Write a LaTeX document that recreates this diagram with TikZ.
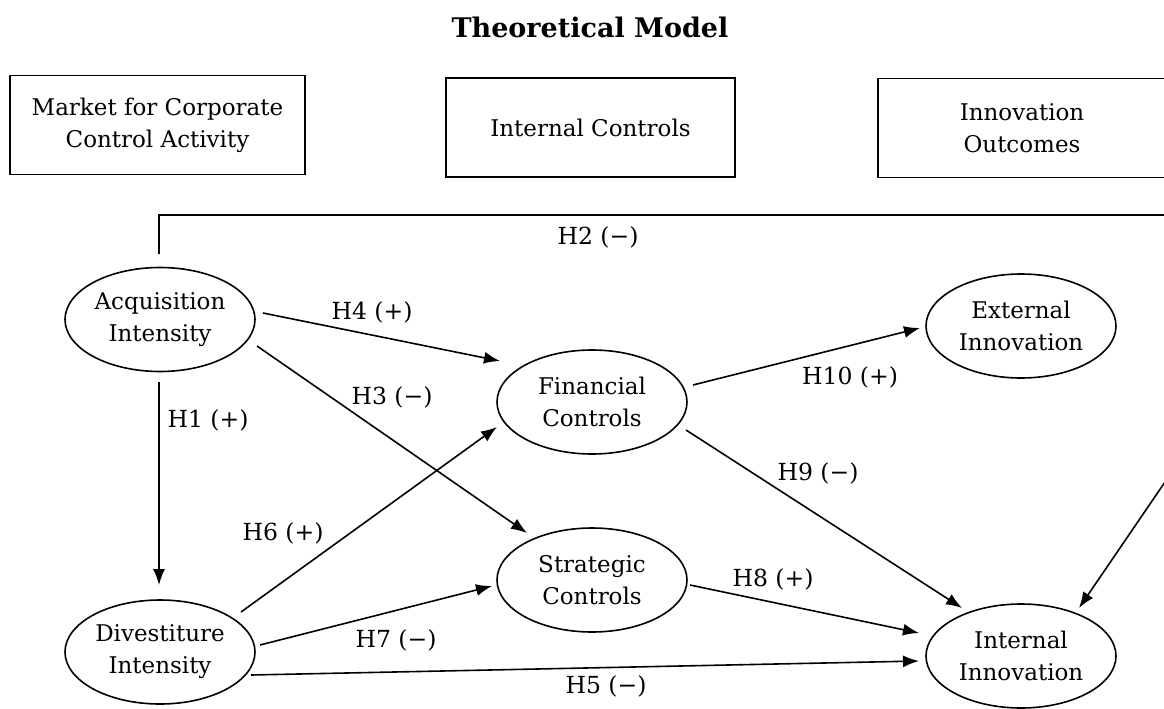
\documentclass[tikz,border=0pt]{standalone}
\usepackage{fontspec}
\setmainfont{DejaVu Serif}
\usetikzlibrary{arrows.meta,shapes.geometric}
\begin{document}
\begin{tikzpicture}[x=1pt,y=-1pt,
  hbox/.style={draw, line width=1.7pt, minimum height=99pt, align=center,
    inner sep=0pt, font=\fontsize{23}{32}\selectfont},
  var/.style={draw, ellipse, line width=1.6pt, minimum width=190pt,
    minimum height=104pt, inner sep=0pt, align=center,
    font=\fontsize{23}{32}\selectfont},
  link/.style={line width=1.6pt, -{Latex[length=16pt,width=12pt]}},
  lab/.style={font=\fontsize{23.5}{28}\selectfont, inner sep=0pt}]
\useasboundingbox (0,0) rectangle (1164,709);

% heading and column boxes
\node[font=\bfseries\fontsize{27}{32}\selectfont] (title) at (590,27) {Theoretical Model};
\node[hbox, minimum width=295pt] (mkt) at (157.5,125) {Market for Corporate\\Control Activity};
\node[hbox, minimum width=289pt] (ic) at (590.5,127.5) {Internal Controls};
\node[hbox, minimum width=288pt] (io) at (1022,128) {Innovation\\Outcomes};

% constructs
\node[var] (acq) at (160,319.5) {Acquisition\\Intensity};
\node[var] (fin) at (592,402) {Financial\\Controls};
\node[var] (ext) at (1021,326) {External\\Innovation};
\node[var] (str) at (592,580) {Strategic\\Controls};
\node[var] (div) at (160,652) {Divestiture\\Intensity};
\node[var] (inn) at (1021,656) {Internal\\Innovation};

% bends of the H2 path along the top and right edge
\coordinate (h2a) at (1180,215);
\coordinate (h2b) at (1180,460);

% hypothesised paths
\draw[link] ([shift={(-1,-65.5)}]acq.center) |- (h2a) -- (h2b) -- ([shift={(58,-48)}]inn.center);
\draw[link] ([shift={(103,-6.5)}]acq.center) -- ([shift={(-92,-41)}]fin.center);
\draw[link] ([shift={(97,26.5)}]acq.center) -- ([shift={(-65,-47)}]str.center);
\draw[link] ([shift={(-1,62.5)}]acq.center) -- ([shift={(-1,-67)}]div.center);
\draw[link] ([shift={(81,-40)}]div.center) -- ([shift={(-95,25)}]fin.center);
\draw[link] ([shift={(100,-7)}]div.center) -- ([shift={(-100,6)}]str.center);
\draw[link] ([shift={(91,23)}]div.center) -- ([shift={(-102,5)}]inn.center);
\draw[link] ([shift={(101,-17)}]fin.center) -- ([shift={(-101,2)}]ext.center);
\draw[link] ([shift={(94,28)}]fin.center) -- ([shift={(-59,-48)}]inn.center);
\draw[link] ([shift={(98,5)}]str.center) -- ([shift={(-102,-23)}]inn.center);

% hypothesis labels
\node[lab] (l2) at (598,237) {H2 (−)};
\node[lab] (l4) at (372,312) {H4 (+)};
\node[lab] (l3) at (392,397) {H3 (−)};
\node[lab] (l1) at (208,420) {H1 (+)};
\node[lab] (l10) at (850,377) {H10 (+)};
\node[lab] (l9) at (818,473) {H9 (−)};
\node[lab] (l6) at (283,533) {H6 (+)};
\node[lab] (l8) at (773,579) {H8 (+)};
\node[lab] (l7) at (396,640) {H7 (−)};
\node[lab] (l5) at (606,686) {H5 (−)};
\end{tikzpicture}
\end{document}
